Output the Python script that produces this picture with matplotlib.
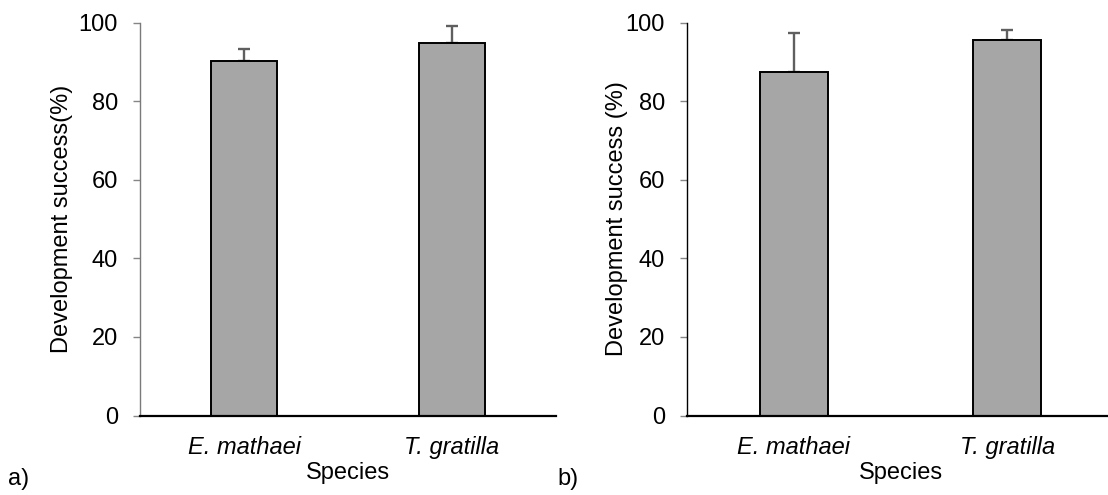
import numpy as np
import matplotlib.pyplot as plt

plt.rcParams['font.family'] = ['Liberation Sans', 'DejaVu Sans']
plt.rcParams['font.size'] = 17

species = ['E. mathaei', 'T. gratilla']
success_a = [90.3, 94.7]
err_a = [3.0, 4.3]
success_b = [87.3, 95.5]
err_b = [10.1, 2.6]

W, H = 1108, 495
fig = plt.figure(figsize=(W / 100, H / 100), dpi=100)


def panel(left, right, vals, errs, ylabel, spine_col, lab_x, tag, tag_x):
    ax = fig.add_axes([left / W, 1 - 415.5 / H, (right - left) / W, (415.5 - 22.5) / H])
    x = np.arange(len(species))
    ax.bar(x, vals, width=0.317, color='#a6a6a6', edgecolor='black', linewidth=1.4, zorder=3)
    # upper half of the error bar only
    ax.errorbar(x, vals, yerr=[np.zeros(len(errs)), errs], fmt='none', ecolor='#5f5f5f',
                elinewidth=1.7, capsize=4.5, capthick=1.7, zorder=2)
    ax.set_xlim(-0.5, 1.5)
    ax.set_ylim(0, 100)
    ax.set_yticks(range(0, 101, 20))
    ax.set_xticks(x)
    ax.set_xticklabels(species, style='italic')
    ax.tick_params(axis='x', length=0, pad=15)
    ax.tick_params(axis='y', length=5, width=1, color='#868686', pad=11)
    ax.set_xlabel('Species', labelpad=2)
    for s in ['top', 'right']:
        ax.spines[s].set_visible(False)
    ax.spines['left'].set_color(spine_col)
    ax.spines['left'].set_linewidth(1.0)
    ax.spines['bottom'].set_color('black')
    ax.spines['bottom'].set_linewidth(1.6)
    ax.spines['bottom'].set_zorder(4)
    fig.text(lab_x / W, 1 - 219 / H, ylabel, rotation=90, ha='center', va='center')
    fig.text(tag_x / W, 1 - 479 / H, tag, ha='left', va='center')
    return ax


panel(140, 556, success_a, err_a, 'Development success(%)', '#7a7a7a', 62, 'a)', 8)
panel(687, 1114, success_b, err_b, 'Development success (%)', 'black', 617, 'b)', 557)

fig.savefig('out.png', dpi=100)
